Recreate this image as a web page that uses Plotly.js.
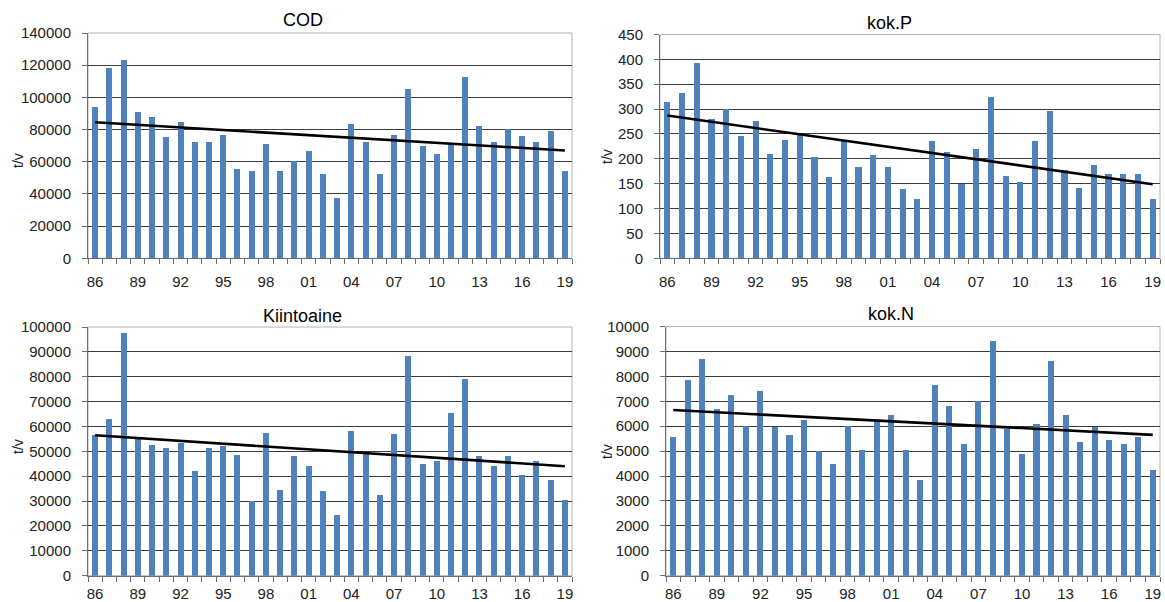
<!DOCTYPE html>
<html>
<head>
<meta charset="utf-8">
<script src="https://cdn.plot.ly/plotly-3.0.1.min.js"></script>
<style>html,body{margin:0;padding:0;background:#fff;}#chart{width:1165px;height:602px;}</style>
</head>
<body>
<div id="chart"></div>
<script>
const years = [1986,1987,1988,1989,1990,1991,1992,1993,1994,1995,1996,1997,1998,1999,2000,2001,2002,2003,2004,2005,2006,2007,2008,2009,2010,2011,2012,2013,2014,2015,2016,2017,2018,2019];
const tickYears = [1986,1989,1992,1995,1998,2001,2004,2007,2010,2013,2016,2019];
const tickLabels = ['86','89','92','95','98','01','04','07','10','13','16','19'];

const cod = [94000,118500,123500,91000,87500,75500,85000,72000,72500,76500,55500,54000,71000,54500,60500,66500,52500,37500,83500,72000,52500,76500,105000,70000,65000,71000,112500,82500,72000,80500,76000,72000,79000,54000];
const kokP = [314,333,393,281,300,245,276,210,238,250,204,163,237,183,207,183,139,120,236,213,150,219,325,165,153,236,297,178,141,187,170,170,170,120];
const kiinto = [56500,63000,97500,55500,52500,51500,53500,42000,51500,52000,48500,30000,57500,34500,48000,44000,34000,24500,58000,49500,32500,57000,88500,45000,46000,65500,79000,48000,44000,48000,40500,46000,38500,30500];
const kokN = [5550,7850,8700,6700,7250,6000,7400,5950,5650,6250,5000,4500,6000,5050,6200,6450,5050,3850,7650,6800,5300,7000,9400,5900,4900,6100,8600,6450,5350,5950,5450,5300,5550,4250];

// trend line end points (first and last year)
const trendYears = [1986, 2019];
const codTrend = [84500, 67000];
const kokPTrend = [287, 149];
const kiintoTrend = [56500, 44000];
const kokNTrend = [6650, 5650];

const titles = ['COD','kok.P','Kiintoaine','kok.N'];
const yUnit = 't/v';

const FONT = 'Liberation Sans, Arial, sans-serif';
const BAR = '#4F81BD';
const AXC = '#6e6e6e';

const series = [cod, kokP, kiinto, kokN];
const trends = [codTrend, kokPTrend, kiintoTrend, kokNTrend];
const data = [];
series.forEach((s, i) => {
  const sx = i === 0 ? 'x' : 'x' + (i + 1);
  const sy = i === 0 ? 'y' : 'y' + (i + 1);
  data.push({type:'bar', x: years, y: s, xaxis: sx, yaxis: sy, width: 0.42,
    marker:{color: BAR, line:{width:0}}, hoverinfo:'x+y', showlegend:false});
  data.push({type:'scatter', mode:'lines', x: trendYears, y: trends[i], xaxis: sx, yaxis: sy,
    line:{color:'#000', width:2.6}, hoverinfo:'skip', showlegend:false});
  // invisible helper trace so the category-boundary tick axis is drawn
  data.push({type:'scatter', mode:'markers', x: [years[0]], y: [0], xaxis: 'x' + (i + 5), yaxis: sy,
    marker:{opacity:0, size:1}, hoverinfo:'skip', showlegend:false});
});

function xax(domain, anchor, standoff) {
  return {domain: domain, anchor: anchor, range:[1985.5, 2019.5], tickmode:'array',
    tickvals: tickYears, ticktext: tickLabels, ticks:'', showgrid:false, zeroline:false,
    showline:true, linecolor:AXC, linewidth:1,
    tickfont:{family: FONT, size:15, color:'#222'}, ticklabelstandoff: standoff, fixedrange:true};
}
function xtickax(domain, anchor, overlay) {
  return {domain: domain, anchor: anchor, overlaying: overlay, range:[1985.5, 2019.5],
    tickmode:'linear', tick0:1985.5, dtick:1, ticks:'outside', ticklen:5, tickcolor:AXC, tickwidth:1,
    showticklabels:false, showgrid:false, zeroline:false, showline:false, fixedrange:true};
}
function yax(domain, anchor, max, dtick) {
  return {domain: domain, anchor: anchor, range:[0, max], dtick: dtick, tick0:0, tickformat:'d',
    ticks:'outside', ticklen:5, tickcolor:AXC, showline:true, linecolor:AXC, linewidth:1,
    showgrid:true, gridcolor:'#3c3c3c', gridwidth:1, zeroline:false,
    tickfont:{family: FONT, size:15, color:'#222'}, ticklabelstandoff: 8, fixedrange:true};
}

const W = 1165, H = 602;
const px = v => v / W, py = v => 1 - v / H;

const dTL = [px(88), px(572)], dTR = [px(660), px(1160)], dBL = [px(88), px(572)], dBR = [px(666), px(1160)];

const layout = {
  width: W, height: H, margin:{l:0,r:0,t:0,b:0}, paper_bgcolor:'#fff', plot_bgcolor:'#fff',
  bargap: 0, showlegend:false,
  xaxis: xax(dTL, 'y', 10),
  yaxis: yax([py(258.3), py(33)], 'x', 140000, 20000),
  xaxis2: xax(dTR, 'y2', 10),
  yaxis2: yax([py(258.3), py(34.5)], 'x2', 450, 50),
  xaxis3: xax(dBL, 'y3', 4),
  yaxis3: yax([py(575.7), py(327)], 'x3', 100000, 10000),
  xaxis4: xax(dBR, 'y4', 4),
  yaxis4: yax([py(575.7), py(326.5)], 'x4', 10000, 1000),
  xaxis5: xtickax(dTL, 'y', 'x'),
  xaxis6: xtickax(dTR, 'y2', 'x2'),
  xaxis7: xtickax(dBL, 'y3', 'x3'),
  xaxis8: xtickax(dBR, 'y4', 'x4'),
  shapes: [],
  annotations: []
};

// light plot-area frame
['', '2', '3', '4'].forEach(s => {
  layout.shapes.push({type:'rect', xref:'x' + s + ' domain', yref:'y' + s + ' domain', x0:0, x1:1, y0:0, y1:1,
    line:{color:'#b4b4b4', width:1}, layer:'below'});
});

const titlePos = [[303, 20], [889, 23], [302, 316], [891, 314]];
const unitPos = [[18, 161], [607, 157], [18, 447], [607, 452]];
titles.forEach((t, i) => {
  layout.annotations.push({text: t, xref:'paper', yref:'paper', x: px(titlePos[i][0]), y: py(titlePos[i][1]),
    xanchor:'center', yanchor:'middle', showarrow:false, font:{family: FONT, size:18, color:'#000'}});
  layout.annotations.push({text: yUnit, xref:'paper', yref:'paper', x: px(unitPos[i][0]), y: py(unitPos[i][1]),
    xanchor:'center', yanchor:'middle', textangle:-90, showarrow:false, font:{family: FONT, size:14, color:'#222'}});
});

Plotly.newPlot('chart', data, layout, {displayModeBar:false, staticPlot:true});
</script>
</body>
</html>
